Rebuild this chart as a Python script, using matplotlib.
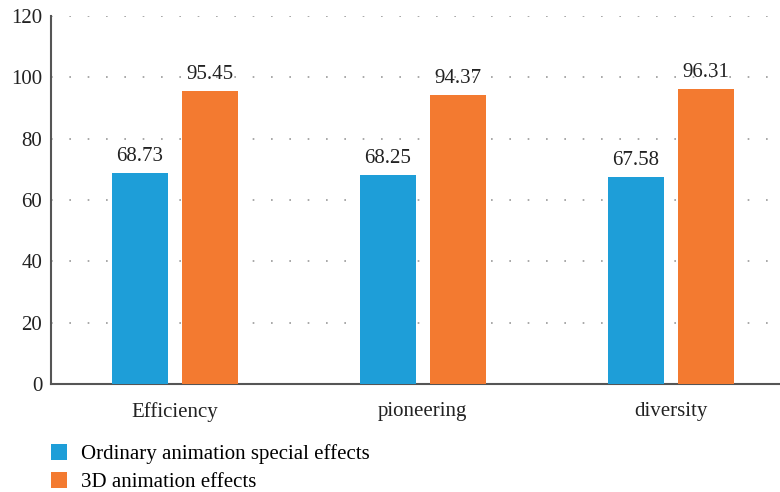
import numpy as np
import matplotlib
matplotlib.use("Agg")
import matplotlib.pyplot as plt

categories = ["Efficiency", "pioneering", "diversity"]
ordinary = [68.73, 68.25, 67.58]
effects_3d = [95.45, 94.37, 96.31]
series_names = ["Ordinary animation special effects", "3D animation effects"]
colors = ["#1E9ED8", "#F37A30"]

plt.rcParams["font.family"] = ["Liberation Serif", "DejaVu Serif"]

fig = plt.figure(figsize=(7.8, 4.92), dpi=100)
ax = fig.add_axes([0.065, 0.2195, 0.935, 0.748])

x = np.arange(len(categories))
w = 0.226
off = 0.141
b1 = ax.bar(x - off, ordinary, w, color=colors[0], label=series_names[0], zorder=3)
b2 = ax.bar(x + off, effects_3d, w, color=colors[1], label=series_names[1], zorder=3)

for bars, vals in ((b1, ordinary), (b2, effects_3d)):
    for r, v in zip(bars, vals):
        ax.text(r.get_x() + r.get_width() / 2, v + 2.3, f"{v:.2f}",
                ha="center", va="bottom", fontsize=15, color="#222222")

ax.set_xlim(-0.5, 2.44)
ax.set_ylim(0, 120)
ax.set_yticks(range(0, 121, 20))
ax.set_xticks(x)
ax.set_xticklabels(categories)
ax.tick_params(axis="both", length=0, labelsize=15, colors="#222222")
ax.tick_params(axis="x", pad=13)
ax.tick_params(axis="y", pad=6)
ax.yaxis.grid(True, linestyle=(0, (1, 10)), color="#999999", linewidth=1.2, zorder=0)

for s in ("top", "right"):
    ax.spines[s].set_visible(False)
for s in ("left", "bottom"):
    ax.spines[s].set_color("#555555")
    ax.spines[s].set_linewidth(1.5)

fig.legend(handles=[b1, b2], labels=series_names, loc="upper left",
           bbox_to_anchor=(0.065, 0.097), frameon=False, fontsize=15,
           handlelength=0.8, handleheight=0.8, handletextpad=0.65,
           labelspacing=0.35, borderaxespad=0, borderpad=0)

fig.savefig("out.png", dpi=100)
